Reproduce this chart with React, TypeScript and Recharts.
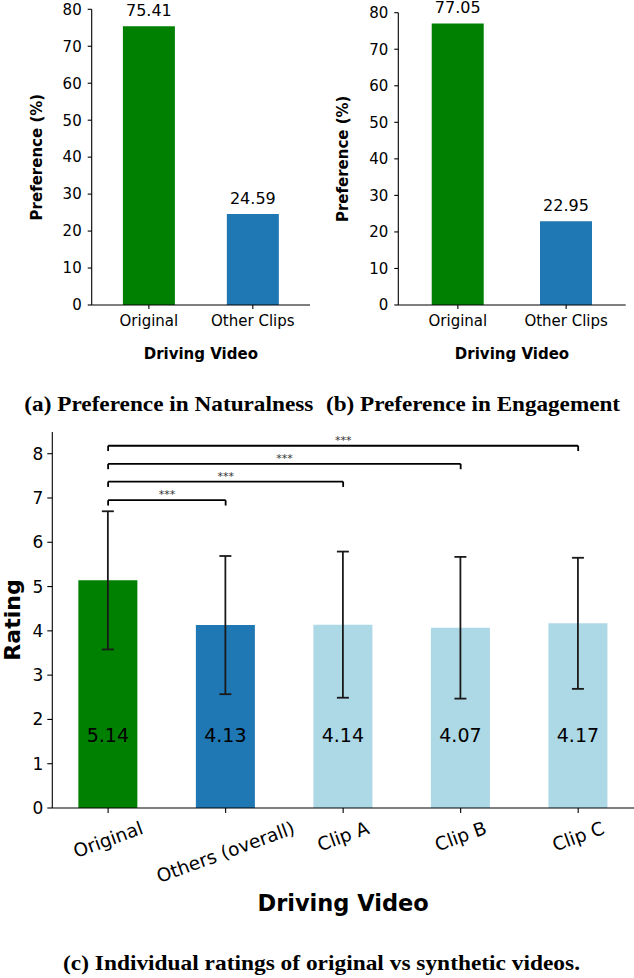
import React from "react";
import {
	BarChart,
	Bar,
	XAxis,
	YAxis,
	Cell,
	LabelList,
	ErrorBar,
	ReferenceLine,
} from "recharts";

// (a) and (b): preference share per driving video
const prefCategories = ["Original", "Other Clips"];
const naturalness = [75.41, 24.59];
const engagement = [77.05, 22.95];
const prefTicks = [0, 10, 20, 30, 40, 50, 60, 70, 80];
const prefColors = ["#008000", "#1f77b4"];

// (c): mean rating with spread
const ratingCategories = [
	"Original",
	"Others (overall)",
	"Clip A",
	"Clip B",
	"Clip C",
];
const ratingMeans = [5.14, 4.13, 4.14, 4.07, 4.17];
const ratingErrors = [1.56, 1.56, 1.65, 1.6, 1.48];
const ratingTicks = [0, 1, 2, 3, 4, 5, 6, 7, 8];
const ratingColors = ["#008000", "#1f77b4", "#add8e6", "#add8e6", "#add8e6"];
const ratingLabelLevel = 1.64; // rating value where the in-bar numbers sit

// significance brackets: pairs of category indices, height, marker
const sigPairs = [
	[0, 1],
	[0, 2],
	[0, 3],
	[0, 4],
];
const sigLevels = [6.95, 7.37, 7.77, 8.18];
const sigMarks = ["***", "***", "***", "***"];
const sigDrop = 0.12;

const FONT = '"DejaVu Sans", Verdana, sans-serif';
const SERIF = '"Liberation Serif", "DejaVu Serif", serif';

let measureCtx: CanvasRenderingContext2D | null = null;
function textWidth(text: string, font: string) {
	if (!measureCtx) measureCtx = document.createElement("canvas").getContext("2d");
	if (!measureCtx) return text.length * 9;
	measureCtx.font = font;
	return measureCtx.measureText(text).width;
}

function RotatedTick(props: any) {
	const { x, y, payload } = props;
	const label = ratingCategories[payload.value] ?? "";
	const size = 18.5;
	const w = textWidth(label, `${size}px "DejaVu Sans"`);
	const h = size * 1.05;
	const a = (20 * Math.PI) / 180;
	const cy = y + (w * Math.sin(a) + h * Math.cos(a)) / 2;
	return (
		<text
			x={x}
			y={cy}
			transform={`rotate(-20, ${x}, ${cy})`}
			textAnchor="middle"
			dominantBaseline="central"
			fontFamily={FONT}
			fontSize={size}
			fill="#000"
		>
			{label}
		</text>
	);
}

function PreferenceChart(props: {
	values: number[];
	left: number;
	width: number;
	marginTop: number;
	marginRight: number;
	yAxisWidth: number;
	yLabelX: number;
}) {
	const data = prefCategories.map((name, i) => ({
		x: i,
		name,
		value: props.values[i],
	}));
	return (
		<div style={{ position: "absolute", left: props.left, top: 0 }}>
			<BarChart
				width={props.width}
				height={380}
				data={data}
				margin={{ top: props.marginTop, right: props.marginRight, bottom: 15, left: 0 }}
			>
				<XAxis
					dataKey="x"
					type="number"
					domain={[-0.55, 1.55]}
					ticks={[0, 1]}
					interval={0}
					tickFormatter={(i: number) => prefCategories[i]}
					height={60}
					stroke="#000"
					strokeWidth={1.1}
					tickSize={4}
					tickMargin={6}
					tick={{ fill: "#000", fontSize: 15, fontFamily: FONT }}
					label={{
						content: ({ viewBox }: any) => (
							<text
								x={viewBox.x + viewBox.width / 2}
								y={viewBox.y + 48.5}
								textAnchor="middle"
								dominantBaseline="central"
								fontFamily={FONT}
								fontWeight="bold"
								fontSize={15}
								fill="#000"
							>
								Driving Video
							</text>
						),
					}}
				/>
				<YAxis
					type="number"
					domain={[0, 80]}
					ticks={prefTicks}
					interval={0}
					width={props.yAxisWidth}
					stroke="#000"
					strokeWidth={1.1}
					tickSize={4}
					tickMargin={6}
					tick={{ fill: "#000", fontSize: 15, fontFamily: FONT }}
					label={{
						content: ({ viewBox }: any) => {
							const cy = viewBox.y + viewBox.height / 2;
							return (
								<text
									transform={`translate(${props.yLabelX}, ${cy}) rotate(-90)`}
									textAnchor="middle"
									dominantBaseline="central"
									fontFamily={FONT}
									fontWeight="bold"
									fontSize={15}
									fill="#000"
								>
									Preference (%)
								</text>
							);
						},
					}}
				/>
				<Bar dataKey="value" barSize={52} isAnimationActive={false}>
					{data.map((d, i) => (
						<Cell key={d.name} fill={prefColors[i]} />
					))}
					<LabelList
						dataKey="value"
						position="top"
						offset={10}
						fill="#000"
						fontSize={16}
						fontFamily={FONT}
						formatter={(v: any) => Number(v).toFixed(2)}
					/>
				</Bar>
			</BarChart>
		</div>
	);
}

function RatingChart() {
	const data = ratingCategories.map((name, i) => ({
		x: i,
		name,
		mean: ratingMeans[i],
		err: ratingErrors[i],
	}));
	return (
		<div style={{ position: "absolute", left: 0, top: 420 }}>
			<BarChart
				width={634}
				height={558}
				data={data}
				margin={{ top: 12, right: 0, bottom: 20, left: 0 }}
			>
				<XAxis
					dataKey="x"
					type="number"
					domain={[-0.475, 4.475]}
					ticks={[0, 1, 2, 3, 4]}
					interval={0}
					height={150}
					stroke="#000"
					strokeWidth={1.1}
					tickSize={5}
					tickMargin={5}
					tick={<RotatedTick />}
					label={{
						content: ({ viewBox }: any) => (
							<text
								x={viewBox.x + viewBox.width / 2}
								y={viewBox.y + 95}
								textAnchor="middle"
								dominantBaseline="central"
								fontFamily={FONT}
								fontWeight="bold"
								fontSize={22.5}
								fill="#000"
							>
								Driving Video
							</text>
						),
					}}
				/>
				<YAxis
					type="number"
					domain={[0, 8.49]}
					ticks={ratingTicks}
					interval={0}
					width={52.3}
					stroke="#000"
					strokeWidth={1.1}
					tickSize={5}
					tickMargin={4}
					tick={{ fill: "#000", fontSize: 17, fontFamily: FONT }}
					label={{
						content: ({ viewBox }: any) => {
							const cy = viewBox.y + viewBox.height / 2;
							return (
								<text
									transform={`translate(12, ${cy}) rotate(-90)`}
									textAnchor="middle"
									dominantBaseline="central"
									fontFamily={FONT}
									fontWeight="bold"
									fontSize={22}
									fill="#000"
								>
									Rating
								</text>
							);
						},
					}}
				/>
				<Bar dataKey="mean" barSize={59} isAnimationActive={false}>
					{data.map((d, i) => (
						<Cell key={d.name} fill={ratingColors[i]} />
					))}
					<ErrorBar
						dataKey="err"
						direction="y"
						width={6}
						stroke="#1a1a1a"
						strokeWidth={1.8}
					/>
					<LabelList
						dataKey="mean"
						content={(p: any) => {
							const v = Number(p.value);
							const bottom = p.y + p.height;
							const cy = bottom - (ratingLabelLevel * p.height) / v;
							return (
								<text
									x={p.x + p.width / 2}
									y={cy}
									textAnchor="middle"
									dominantBaseline="central"
									fontFamily={FONT}
									fontSize={19}
									fill="#000"
								>
									{v.toFixed(2)}
								</text>
							);
						}}
					/>
				</Bar>
				{sigPairs.map(([a, b], i) => (
					<ReferenceLine
						key={`top-${i}`}
						segment={[
							{ x: a, y: sigLevels[i] },
							{ x: b, y: sigLevels[i] },
						]}
						stroke="#000"
						strokeWidth={1.8}
						ifOverflow="visible"
						label={{
							value: sigMarks[i],
							position: "top",
							offset: 2,
							fontSize: 11,
							fontFamily: FONT,
							fill: "#333",
						}}
					/>
				))}
				{sigPairs.map(([a], i) => (
					<ReferenceLine
						key={`l-${i}`}
						segment={[
							{ x: a, y: sigLevels[i] },
							{ x: a, y: sigLevels[i] - sigDrop },
						]}
						stroke="#000"
						strokeWidth={1.8}
						ifOverflow="visible"
					/>
				))}
				{sigPairs.map(([, b], i) => (
					<ReferenceLine
						key={`r-${i}`}
						segment={[
							{ x: b, y: sigLevels[i] },
							{ x: b, y: sigLevels[i] - sigDrop },
						]}
						stroke="#000"
						strokeWidth={1.8}
						ifOverflow="visible"
					/>
				))}
			</BarChart>
		</div>
	);
}

const captions = [
	{ text: "(a) Preference in Naturalness", x: 168.8, y: 403.5, w: 289 },
	{ text: "(b) Preference in Engagement", x: 473, y: 403.5, w: 294 },
	{ text: "(c) Individual ratings of original vs synthetic videos.", x: 321.5, y: 963, w: 517 },
];

export default function App() {
	return (
		<div
			style={{
				position: "absolute",
				left: 0,
				top: 0,
				width: 634,
				height: 978,
				background: "#fff",
				overflow: "hidden",
			}}
		>
			<svg
				width={634}
				height={978}
				style={{ position: "absolute", left: 0, top: 0 }}
			>
				{captions.map((c) => (
					<text
						key={c.text}
						x={c.x}
						y={c.y}
						textAnchor="middle"
						dominantBaseline="central"
						fontFamily={SERIF}
						fontWeight="bold"
						fontSize={21}
						textLength={c.w}
						lengthAdjust="spacingAndGlyphs"
						fill="#000"
					>
						{c.text}
					</text>
				))}
			</svg>
			<PreferenceChart
				values={naturalness}
				left={0}
				width={320}
				marginTop={9.3}
				marginRight={10}
				yAxisWidth={91.7}
				yLabelX={36.7}
			/>
			<PreferenceChart
				values={engagement}
				left={310}
				width={324}
				marginTop={12.7}
				marginRight={8.3}
				yAxisWidth={88.3}
				yLabelX={33.3}
			/>
			<RatingChart />
		</div>
	);
}
